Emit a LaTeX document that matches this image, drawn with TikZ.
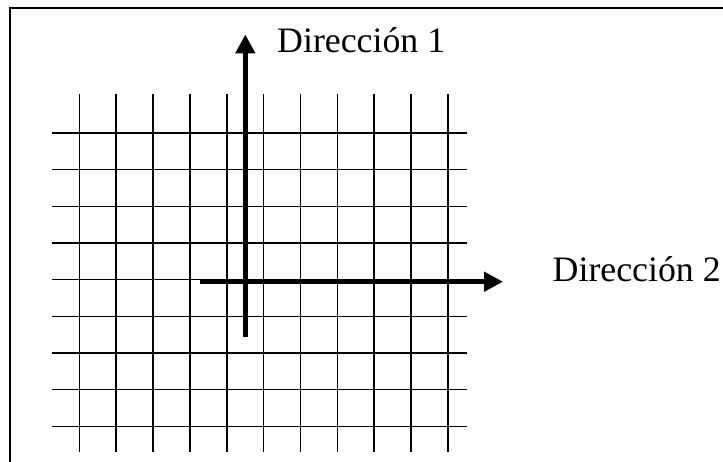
\documentclass[tikz,border=0pt]{standalone}
\usepackage{fontspec}
\setmainfont{Liberation Serif}
\usetikzlibrary{arrows.meta}
\begin{document}
\begin{tikzpicture}[x=1pt,y=-1pt,
  gridline/.style={line width=1.6pt,black},
  framelne/.style={line width=2.2pt,black},
  axisarrow/.style={line width=5pt,black,-{Triangle[length=19pt,width=19pt]}},
  lbl/.style={anchor=base west,inner sep=0pt,font=\fontsize{35.8}{40}\selectfont}]
\useasboundingbox (0,0) rectangle (723,462);
\fill[white] (0,0) rectangle (723,462);
\begin{scope}
\clip (0,0) rectangle (723,462);
\draw[framelne] (10.3,480) -- (10.3,8.3) -- (740,8.3);
\end{scope}
% grid
\foreach \i in {0,...,10} {
  \draw[gridline] (79.3+36.87*\i,94) -- (79.3+36.87*\i,452);
}
\foreach \j in {0,...,8} {
  \draw[gridline] (51.7,133+36.67*\j) -- (466.7,133+36.67*\j);
}
% axes
\coordinate (v0) at (245.3,337.3);
\coordinate (v1) at (245.3,34.5);
\coordinate (h0) at (200,281.7);
\coordinate (h1) at (503,281.7);
\draw[axisarrow] (v0) -- (v1);
\draw[axisarrow] (h0) -- (h1);
% labels
\node[lbl] (d1) at (277,52.3) {Dirección 1};
\node[lbl] (d2) at (552.5,281.7) {Dirección 2};
\end{tikzpicture}
\end{document}
